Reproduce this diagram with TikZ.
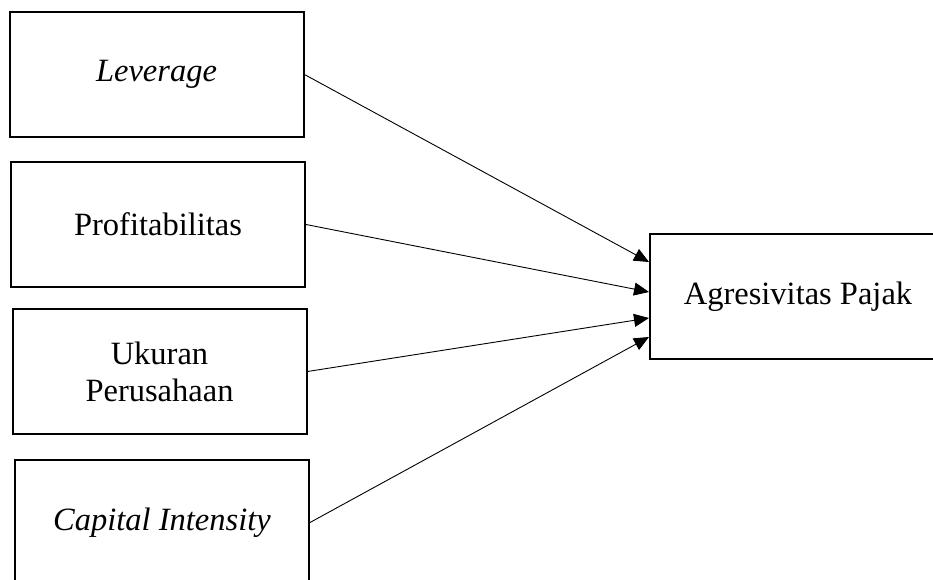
\documentclass[tikz,border=0pt]{standalone}
\usepackage{fontspec}
\setmainfont{Liberation Serif}
\usetikzlibrary{arrows.meta}

\begin{document}
\begin{tikzpicture}[x=1pt, y=-1pt, line width=0.9pt,
		every edge/.style={draw, -{Triangle[length=15pt, width=13pt]}},
		var/.style={draw, rectangle, line width=2pt, minimum width=294pt, minimum height=125pt, align=center, inner sep=0pt,
			font=\fontsize{32.5}{37}\selectfont}]
		\clip (0, 0) rectangle (933, 580);
		\node[var]	(1) at (156.5, 74.5) {\textit{Leverage}};
		\node[var]	(2) at (158, 224.5) {Profitabilitas};
		\node[var]	(3) at (159.5, 371.5) {Ukuran\\Perusahaan};
		\node[var]	(4) at (162, 522.5) {\textit{Capital Intensity}};
		\node[var, minimum width=296pt]	(5) at (798, 296.5) {Agresivitas Pajak};
		
		\path 	(1.east) edge ([yshift=34.5pt]5.west)
				(2.east) edge ([yshift=4.5pt]5.west)
				(3.east) edge ([yshift=-21.5pt]5.west)
				(4.east) edge ([yshift=-40.5pt]5.west);
	\end{tikzpicture}
\end{document}
